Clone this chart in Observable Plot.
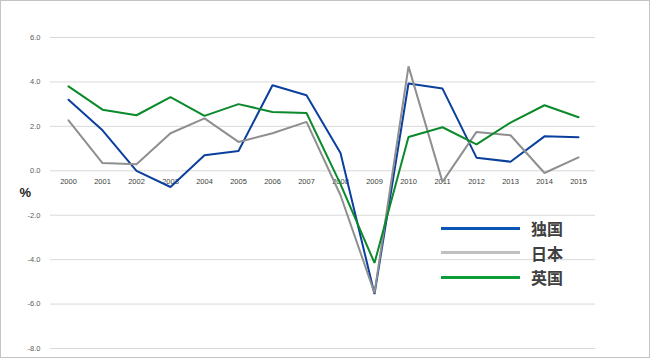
<!DOCTYPE html>
<html>
<head>
<meta charset="utf-8">
<script src="https://cdn.jsdelivr.net/npm/d3@7"></script>
<script src="https://cdn.jsdelivr.net/npm/@observablehq/plot@0.6"></script>
<style>
  body { margin: 0; background: #fff; }
  #wrap { position: relative; width: 650px; height: 358px; overflow: hidden; background: #fff; }
  #wrap svg { position: absolute; left: 0; top: 0; }
  #frame { position: absolute; left: 0; top: 0; width: 650px; height: 358px; box-sizing: border-box; border: 1px solid #c4c4c4; pointer-events: none; }
  #legend { position: absolute; left: 441px; top: 216px; font-family: "Noto Sans CJK JP", sans-serif; font-weight: bold; font-size: 16px; color: #404040; }
  .item { display: flex; align-items: center; height: 24.5px; }
  .swatch { width: 79px; height: 3px; margin-right: 11px; }
</style>
</head>
<body>
<div id="wrap"></div>
<script>
const years = ["2000","2001","2002","2003","2004","2005","2006","2007","2008","2009","2010","2011","2012","2013","2014","2015"];
const seriesNames = ["独国", "日本", "英国"];
const germany = [3.2, 1.82, 0.0, -0.73, 0.70, 0.89, 3.85, 3.40, 0.80, -5.55, 3.93, 3.70, 0.59, 0.41, 1.55, 1.51];
const japan   = [2.27, 0.35, 0.29, 1.69, 2.36, 1.30, 1.69, 2.20, -1.10, -5.50, 4.70, -0.50, 1.75, 1.60, -0.10, 0.60];
const uk      = [3.80, 2.75, 2.50, 3.32, 2.47, 3.00, 2.65, 2.60, -0.60, -4.15, 1.52, 1.96, 1.19, 2.17, 2.95, 2.41];
const yTicks = [-8, -6, -4, -2, 0, 2, 4, 6];
const lineColors = ["#0b3f9e", "#8f8f8f", "#0a8a2a"];
const legendColors = ["#0a56b4", "#c0c0c0", "#0c9c3a"];

const values = [germany, japan, uk];
const data = [];
values.forEach((arr, s) => arr.forEach((v, i) => data.push({series: seriesNames[s], year: years[i], value: v})));

const chart = Plot.plot({
  width: 650,
  height: 358,
  marginLeft: 50,
  marginRight: 55,
  marginTop: 37,
  marginBottom: 10,
  style: { fontFamily: "Liberation Sans, Arial, sans-serif", background: "transparent" },
  x: { type: "point", domain: years, padding: 0.5, axis: null },
  y: { domain: [-8, 6], ticks: yTicks, label: null },
  color: { domain: seriesNames, range: lineColors },
  marks: [
    Plot.gridY(yTicks, { stroke: "#d9d9d9", strokeOpacity: 1, strokeWidth: 1 }),
    Plot.axisY(yTicks, { tickSize: 0, tickPadding: 10, tickFormat: d => d.toFixed(1), fontSize: 7.5, fill: "#595959", label: null }),
    Plot.text(years, { x: d => d, y: 0, dy: 11, text: d => d, fontSize: 7.5, fill: "#404040" }),
    Plot.line(data, { x: "year", y: "value", z: "series", stroke: "series", strokeWidth: 2, strokeLinejoin: "miter", curve: "linear" }),
    Plot.text(["%"], { frameAnchor: "left", dx: -31, text: d => d, fontSize: 13, fontWeight: "bold", fill: "#222" })
  ]
});

const wrap = document.getElementById("wrap");
wrap.appendChild(chart);

const legend = document.createElement("div");
legend.id = "legend";
seriesNames.forEach((name, i) => {
  const item = document.createElement("div");
  item.className = "item";
  const sw = document.createElement("div");
  sw.className = "swatch";
  sw.style.background = legendColors[i];
  const label = document.createElement("span");
  label.textContent = name;
  item.appendChild(sw);
  item.appendChild(label);
  legend.appendChild(item);
});
wrap.appendChild(legend);

const frame = document.createElement("div");
frame.id = "frame";
wrap.appendChild(frame);
</script>
</body>
</html>
